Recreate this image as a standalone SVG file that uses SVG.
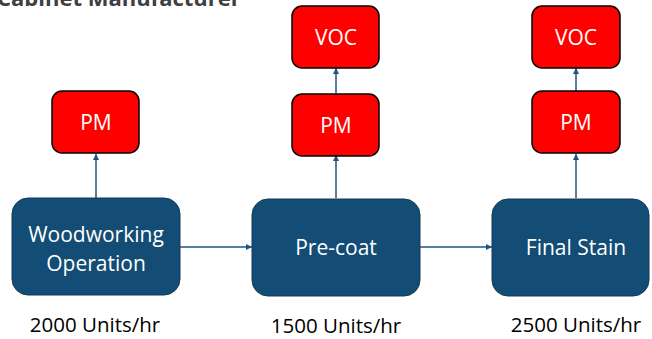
<svg xmlns="http://www.w3.org/2000/svg" width="652" height="339" viewBox="0 0 652 339">
  <defs>
    <marker id="arrow" viewBox="0 0 10 10" refX="10" refY="5" markerWidth="6" markerHeight="6" markerUnits="userSpaceOnUse" orient="auto">
      <path d="M0,0 L10,5 L0,10 Z" fill="#1A5580"/>
    </marker>
    <style>
      .process { fill: #134C74; stroke: #0E3B5B; stroke-width: 1; }
      .emission { fill: #FF0000; stroke: #000000; stroke-width: 1.5; }
      .label { font-family: "Open Sans", "Noto Sans", sans-serif; font-size: 21px; fill: #FFFFFF; text-anchor: middle; }
      .rate { font-family: "Open Sans", "Noto Sans", sans-serif; font-size: 20.5px; fill: #000000; text-anchor: middle; }
      .title { font-family: "Open Sans", "Noto Sans", sans-serif; font-size: 22px; font-weight: bold; fill: #404040; }
      .flow { stroke: #1A5580; stroke-width: 1.5; fill: none; marker-end: url(#arrow); }
    </style>
  </defs>

  <rect width="652" height="339" fill="#FFFFFF"/>

  <!-- heading, partly above the top edge -->
  <text class="title" x="-3" y="6">Cabinet Manufacturer</text>

  <!-- connectors -->
  <g id="connectors">
    <line class="flow" x1="96" y1="198" x2="96" y2="154"/>
    <line class="flow" x1="180" y1="247" x2="252" y2="247"/>
    <line class="flow" x1="336" y1="198" x2="336" y2="155"/>
    <line class="flow" x1="336" y1="93" x2="336" y2="68"/>
    <line class="flow" x1="420" y1="247" x2="492" y2="247"/>
    <line class="flow" x1="576" y1="198" x2="576" y2="154"/>
    <line class="flow" x1="576" y1="91" x2="576" y2="68"/>
  </g>

  <!-- process nodes -->
  <g id="woodworking">
    <rect class="process" x="12" y="198" width="168" height="97" rx="16"/>
    <text class="label" x="96" y="242">Woodworking</text>
    <text class="label" x="96" y="271">Operation</text>
    <text class="rate" x="95" y="332">2000 Units/hr</text>
  </g>
  <g id="precoat">
    <rect class="process" x="252" y="199" width="168" height="97" rx="16"/>
    <text class="label" x="336" y="255">Pre-coat</text>
    <text class="rate" x="336" y="333">1500 Units/hr</text>
  </g>
  <g id="finalstain">
    <rect class="process" x="492" y="199" width="157" height="97" rx="16"/>
    <text class="label" x="576" y="255">Final Stain</text>
    <text class="rate" x="576" y="332">2500 Units/hr</text>
  </g>

  <!-- emission nodes -->
  <g id="pm1">
    <rect class="emission" x="52" y="91" width="87" height="62" rx="10"/>
    <text class="label" x="96" y="130">PM</text>
  </g>
  <g id="pm2">
    <rect class="emission" x="292" y="94" width="87" height="62" rx="10"/>
    <text class="label" x="336" y="133">PM</text>
  </g>
  <g id="voc2">
    <rect class="emission" x="292" y="6" width="87" height="62" rx="10"/>
    <text class="label" x="336" y="45">VOC</text>
  </g>
  <g id="pm3">
    <rect class="emission" x="532" y="91" width="88" height="62" rx="10"/>
    <text class="label" x="576" y="130">PM</text>
  </g>
  <g id="voc3">
    <rect class="emission" x="532" y="6" width="88" height="62" rx="10"/>
    <text class="label" x="576" y="45">VOC</text>
  </g>
</svg>
